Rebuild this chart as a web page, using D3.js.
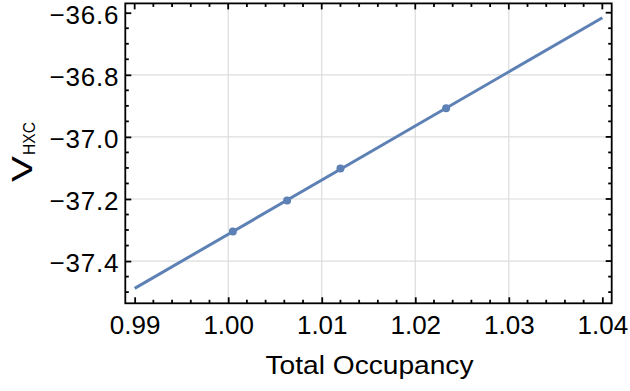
<!DOCTYPE html>
<html>
<head>
<meta charset="utf-8">
<script src="https://cdn.jsdelivr.net/npm/d3@7"></script>
<style>
  html, body { margin: 0; padding: 0; background: #fff; }
  svg { display: block; }
  text { font-family: "Liberation Sans", Arial, sans-serif; fill: #000; }
</style>
</head>
<body>
<svg id="chart" width="630" height="391"></svg>
<script>
// Computed points: Hartree-exchange-correlation potential vs total occupancy
const occupancy = [1.0005, 1.0063, 1.0120, 1.0233];
const vhxc = [-37.305, -37.205, -37.102, -36.908];

// Straight-line fit through the points, drawn across the plotted range
const fitOccupancy = [0.99, 1.04];
const fitVhxc = [-37.488, -36.616];

// Tick labels
const xTickValues = [0.99, 1.00, 1.01, 1.02, 1.03, 1.04];
const yTickValues = [-37.4, -37.2, -37.0, -36.8, -36.6];

const svg = d3.select("#chart");
const plotL = 125.3, plotR = 611.7, plotT = 3.4, plotB = 303.3;

const x = d3.scaleLinear().domain([0.989, 1.041]).range([plotL, plotR]);
const y = d3.scaleLinear().domain([-37.536, -36.57]).range([plotB, plotT]);

const lineColor = "#5E81B5";

// Grid lines at interior major ticks
const gx = xTickValues.filter(v => v > 0.995 && v < 1.035);
const gy = yTickValues.filter(v => v < -36.7);
svg.append("g").selectAll("line").data(gx).join("line")
  .attr("x1", d => x(d)).attr("x2", d => x(d))
  .attr("y1", plotT).attr("y2", plotB)
  .attr("stroke", "#dcdcdc").attr("stroke-width", 1.2);
svg.append("g").selectAll("line").data(gy).join("line")
  .attr("y1", d => y(d)).attr("y2", d => y(d))
  .attr("x1", plotL).attr("x2", plotR)
  .attr("stroke", "#dcdcdc").attr("stroke-width", 1.2);

// Fit line
const line = d3.line().x(d => x(d[0])).y(d => y(d[1]));
svg.append("path")
  .datum(d3.zip(fitOccupancy, fitVhxc))
  .attr("d", line)
  .attr("fill", "none")
  .attr("stroke", lineColor)
  .attr("stroke-width", 3);

// Data points
svg.append("g").selectAll("circle").data(d3.zip(occupancy, vhxc)).join("circle")
  .attr("cx", d => x(d[0])).attr("cy", d => y(d[1]))
  .attr("r", 4).attr("fill", lineColor);

// Minor tick positions
const xMinor = d3.range(0, 26).map(i => +(0.99 + i * 0.002).toFixed(3))
  .filter(v => !xTickValues.some(t => Math.abs(t - v) < 1e-9));
const yMinor = d3.range(0, 19).map(i => +(-37.5 + i * 0.05).toFixed(2))
  .filter(v => !yTickValues.some(t => Math.abs(t - v) < 1e-9));

const major = 6, minor = 3.5, tickW = 1.8;

// Bottom and left axes with labels, ticks pointing inward
const xAxis = d3.axisBottom(x).tickValues(xTickValues)
  .tickFormat(d3.format(".2f")).tickSize(-major).tickPadding(12);
const gX = svg.append("g").attr("transform", `translate(0,${plotB})`).call(xAxis);
const yAxis = d3.axisLeft(y).tickValues(yTickValues)
  .tickFormat(d => d3.format(".1f")(d).replace("-", "\u2212")).tickSize(-major).tickPadding(6);
const gY = svg.append("g").attr("transform", `translate(${plotL},0)`).call(yAxis);

[gX, gY].forEach(g => {
  g.select(".domain").remove();
  g.selectAll(".tick line").attr("stroke", "#000").attr("stroke-width", tickW);
  g.selectAll(".tick text").style("font-size", "26px").attr("fill", "#000");
});
gY.selectAll(".tick text").attr("dy", "0.42em").style("letter-spacing", "0.8px");

// Minor ticks and the ticks on the top and right edges
const tk = svg.append("g").attr("stroke", "#000").attr("stroke-width", tickW);
xMinor.forEach(v => {
  tk.append("line").attr("x1", x(v)).attr("x2", x(v)).attr("y1", plotB).attr("y2", plotB - minor);
  tk.append("line").attr("x1", x(v)).attr("x2", x(v)).attr("y1", plotT).attr("y2", plotT + minor);
});
xTickValues.forEach(v => {
  tk.append("line").attr("x1", x(v)).attr("x2", x(v)).attr("y1", plotT).attr("y2", plotT + major);
});
yMinor.forEach(v => {
  tk.append("line").attr("y1", y(v)).attr("y2", y(v)).attr("x1", plotL).attr("x2", plotL + minor);
  tk.append("line").attr("y1", y(v)).attr("y2", y(v)).attr("x1", plotR).attr("x2", plotR - minor);
});
yTickValues.forEach(v => {
  tk.append("line").attr("y1", y(v)).attr("y2", y(v)).attr("x1", plotR).attr("x2", plotR - major);
});

// Frame
svg.append("rect")
  .attr("x", plotL).attr("y", plotT)
  .attr("width", plotR - plotL).attr("height", plotB - plotT)
  .attr("fill", "none").attr("stroke", "#000").attr("stroke-width", 1.8);

// Axis titles
svg.append("text")
  .attr("x", (plotL + plotR) / 2 + 1).attr("y", 374)
  .attr("text-anchor", "middle")
  .attr("textLength", 208).attr("lengthAdjust", "spacingAndGlyphs")
  .style("font-size", "25px")
  .text("Total Occupancy");

// Vertical title: V with subscript HXC, reading upward
const yTitle = svg.append("g").attr("transform", "translate(32,182) rotate(-90)");
yTitle.append("text")
  .attr("x", 0).attr("y", 0)
  .attr("textLength", 26).attr("lengthAdjust", "spacingAndGlyphs")
  .style("font-size", "30px")
  .text("V");
yTitle.append("text")
  .attr("x", 27).attr("y", 3)
  .attr("textLength", 33).attr("lengthAdjust", "spacingAndGlyphs")
  .style("font-size", "17px")
  .text("HXC");
</script>
</body>
</html>
